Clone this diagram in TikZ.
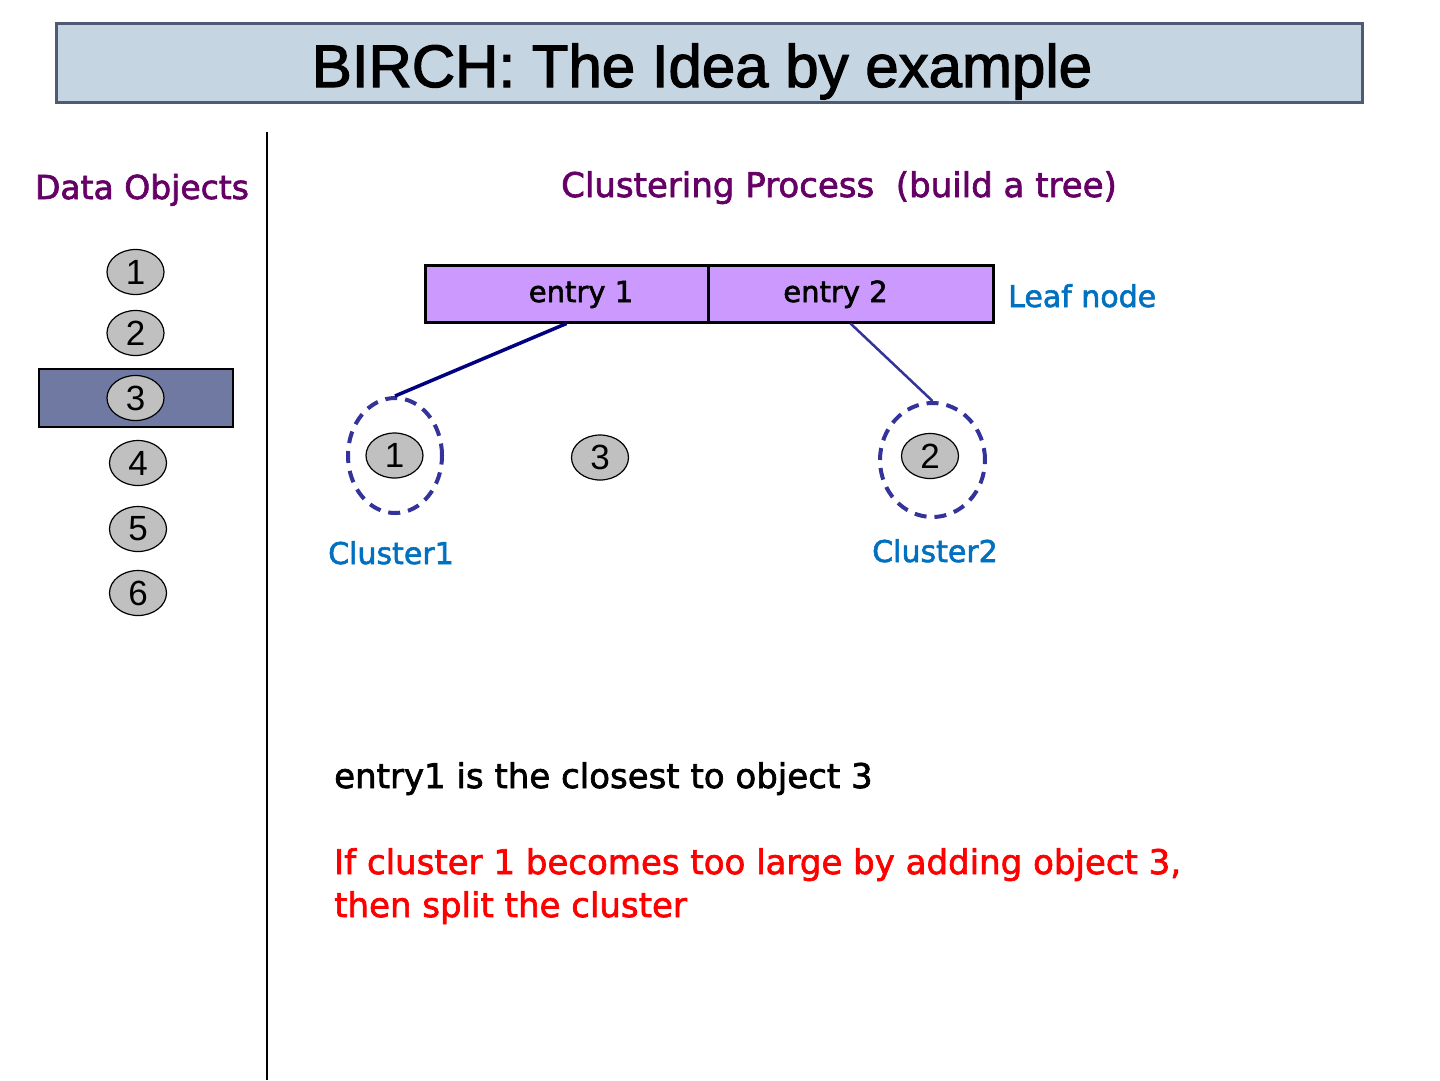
\documentclass[tikz,border=0pt]{standalone}
\usepackage{fontspec}
\setmainfont{DejaVu Sans}[FakeBold=2]
\newfontfamily\arialfont{Liberation Sans}
\newfontfamily\titlefont{Liberation Sans}[FakeBold=2]
\usepackage{xcolor}
\usetikzlibrary{shapes.geometric}
\definecolor{titlefill}{HTML}{C6D5E2}
\definecolor{titleedge}{HTML}{4F5B74}
\definecolor{headpurple}{HTML}{660066}
\definecolor{labelblue}{HTML}{0070C0}
\definecolor{selfill}{HTML}{6F79A1}
\definecolor{leaffill}{HTML}{CC99FF}
\definecolor{objfill}{HTML}{C0C0C0}
\definecolor{clusteredge}{HTML}{333399}
\definecolor{linkone}{HTML}{000080}

\begin{document}
\begin{tikzpicture}[x=1pt,y=-1pt,
    obj/.style={ellipse,draw=black,fill=objfill,line width=1.2pt,minimum width=57pt,minimum height=45pt,inner sep=0pt,font=\arialfont\fontsize{35}{35}\selectfont},
    clus/.style={ellipse,draw=clusteredge,dash pattern=on 12pt off 8pt,line width=4pt,inner sep=0pt},
    entrybox/.style={rectangle,draw=black,fill=leaffill,line width=3pt,minimum height=57pt,inner sep=0pt},
    head/.style={font=\fontsize{34}{34}\selectfont,text=headpurple,inner sep=0pt},
    bluelabel/.style={font=\fontsize{30}{30}\selectfont,text=labelblue,inner sep=0pt},
    entrytext/.style={font=\fontsize{29}{29}\selectfont,inner sep=0pt}]
    \useasboundingbox (0,0) rectangle (1440,1080);
    \node[draw=titleedge,fill=titlefill,line width=3pt,minimum width=1306pt,minimum height=79pt,inner sep=0pt] (title) at (709,62.5) {};
    \node[anchor=base,inner sep=0pt,font=\titlefont\fontsize{60}{60}\selectfont] (titletext) at (702,87) {BIRCH: The Idea by example};
    \draw[line width=2pt] (267,132)--(267,1080);
    \node[head,anchor=base,font=\fontsize{33}{33}\selectfont] (dataobj) at (142,199) {Data Objects};
    \node[head,anchor=base west] (process) at (561,197) {Clustering Process\ \ (build a tree)};
    \node[draw=black,fill=selfill,line width=2pt,minimum width=194pt,minimum height=58pt,inner sep=0pt] (sel) at (136,398) {};
    \node[obj] (o1) at (135.5,272) {1};
    \node[obj] (o2) at (135.5,333) {2};
    \node[obj] (o3) at (135.5,398) {3};
    \node[obj] (o4) at (138,463) {4};
    \node[obj] (o5) at (138,529) {5};
    \node[obj] (o6) at (138,593) {6};
    \node[entrybox,minimum width=283pt] (e1) at (566.5,293.5) {};
    \node[entrybox,minimum width=285pt] (e2) at (850.5,293.5) {};
    \node[entrytext,anchor=base] (e1text) at (581,302) {entry 1};
    \node[entrytext,anchor=base] (e2text) at (835.5,302) {entry 2};
    \node[bluelabel,anchor=base west] (leaf) at (1008,307) {Leaf node};
    \node[clus,minimum width=94pt,minimum height=115pt] (c1) at (395,455.5) {};
    \node[clus,minimum width=105pt,minimum height=114pt] (c2) at (932.5,460) {};
    \node[obj] (c1obj) at (394.5,455.5) {1};
    \node[obj] (newobj) at (600,457.5) {3};
    \node[obj] (c2obj) at (930,456) {2};
    \draw[linkone,line width=3.5pt] (e1.south)--(c1.north);
    \draw[clusteredge,line width=2.5pt] (e2.south)--(c2.north);
    \node[bluelabel,anchor=base] (c1text) at (391,564) {Cluster1};
    \node[bluelabel,anchor=base] (c2text) at (935,562) {Cluster2};
    \node[anchor=base west,inner sep=0pt,font=\fontsize{34}{34}\selectfont] (closest) at (334,788) {entry1 is the closest to object 3};
    \node[anchor=north west,inner sep=0pt,align=left,text=red,font=\fontsize{34}{43}\selectfont] (split) at (334,848) {If cluster 1 becomes too large by adding object 3,\\then split the cluster};
\end{tikzpicture}
\end{document}
